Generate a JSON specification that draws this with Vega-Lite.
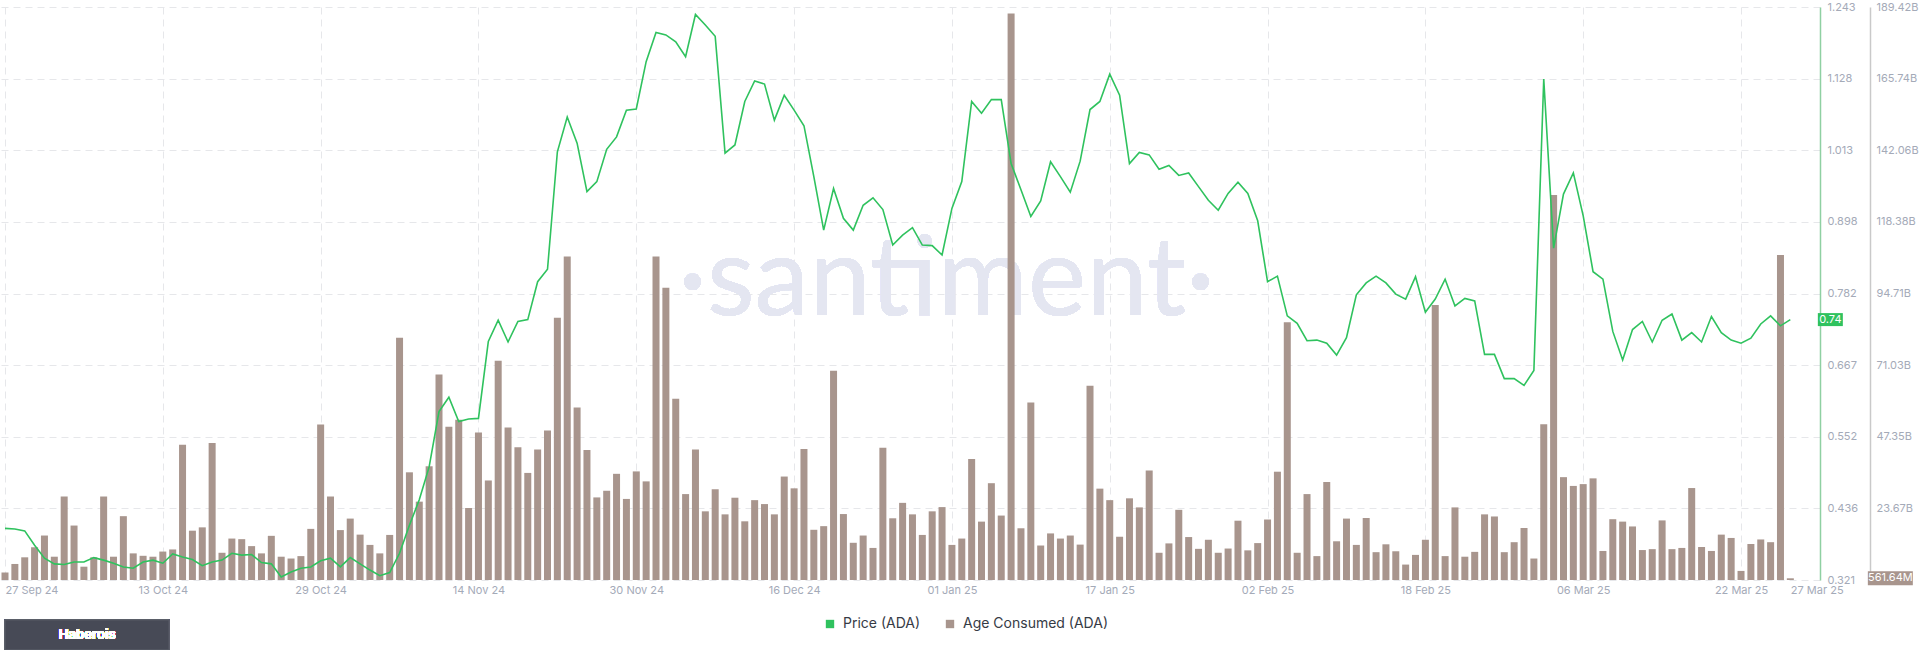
{
"$schema": "https://vega.github.io/schema/vega-lite/v6.json",
"width": 1820,
"height": 573,
"autosize": {"type": "none"},
"padding": {"left": 0, "top": 7, "right": 100, "bottom": 70},
"background": "#ffffff",
"config": {
  "view": {"stroke": null},
  "font": "Inter",
  "axis": {"labelFont": "Inter", "labelFontSize": 11, "labelColor": "#a4aab8", "title": null},
  "legend": {"labelFont": "Inter"}
},
"data": {"values": [
{"date":"2024-09-27","price":0.404,"age":2.5},{"date":"2024-09-28","price":0.403,"age":5.3},{"date":"2024-09-29","price":0.400,"age":7.5},{"date":"2024-09-30","price":0.377,"age":10.8},
{"date":"2024-10-01","price":0.356,"age":14.7},{"date":"2024-10-02","price":0.347,"age":7.7},{"date":"2024-10-03","price":0.346,"age":27.6},{"date":"2024-10-04","price":0.350,"age":18.0},{"date":"2024-10-05","price":0.350,"age":4.4},{"date":"2024-10-06","price":0.357,"age":7.5},{"date":"2024-10-07","price":0.353,"age":27.6},{"date":"2024-10-08","price":0.348,"age":7.7},{"date":"2024-10-09","price":0.342,"age":21.1},{"date":"2024-10-10","price":0.340,"age":8.8},
{"date":"2024-10-11","price":0.350,"age":8.0},{"date":"2024-10-12","price":0.353,"age":7.7},{"date":"2024-10-13","price":0.348,"age":9.4},{"date":"2024-10-14","price":0.363,"age":10.1},{"date":"2024-10-15","price":0.358,"age":44.7},{"date":"2024-10-16","price":0.354,"age":16.3},{"date":"2024-10-17","price":0.344,"age":17.4},{"date":"2024-10-18","price":0.350,"age":45.3},{"date":"2024-10-19","price":0.353,"age":9.0},{"date":"2024-10-20","price":0.364,"age":13.7},
{"date":"2024-10-21","price":0.361,"age":13.5},{"date":"2024-10-22","price":0.362,"age":11.2},{"date":"2024-10-23","price":0.349,"age":8.8},{"date":"2024-10-24","price":0.347,"age":14.6},{"date":"2024-10-25","price":0.326,"age":7.7},{"date":"2024-10-26","price":0.334,"age":7.1},{"date":"2024-10-27","price":0.340,"age":7.9},{"date":"2024-10-28","price":0.342,"age":16.9},{"date":"2024-10-29","price":0.352,"age":51.4},{"date":"2024-10-30","price":0.356,"age":27.6},{"date":"2024-10-31","price":0.342,"age":16.5},
{"date":"2024-11-01","price":0.357,"age":20.3},{"date":"2024-11-02","price":0.347,"age":15.0},{"date":"2024-11-03","price":0.337,"age":11.6},{"date":"2024-11-04","price":0.328,"age":8.8},{"date":"2024-11-05","price":0.333,"age":14.9},{"date":"2024-11-06","price":0.364,"age":80.1},{"date":"2024-11-07","price":0.409,"age":35.6},{"date":"2024-11-08","price":0.450,"age":25.9},{"date":"2024-11-09","price":0.503,"age":37.6},{"date":"2024-11-10","price":0.592,"age":67.9},
{"date":"2024-11-11","price":0.615,"age":50.7},{"date":"2024-11-12","price":0.576,"age":53.0},{"date":"2024-11-13","price":0.580,"age":23.8},{"date":"2024-11-14","price":0.581,"age":48.8},{"date":"2024-11-15","price":0.705,"age":32.9},{"date":"2024-11-16","price":0.739,"age":72.5},{"date":"2024-11-17","price":0.704,"age":50.4},{"date":"2024-11-18","price":0.737,"age":43.9},{"date":"2024-11-19","price":0.740,"age":35.4},{"date":"2024-11-20","price":0.801,"age":43.1},
{"date":"2024-11-21","price":0.821,"age":49.4},{"date":"2024-11-22","price":1.010,"age":86.7},{"date":"2024-11-23","price":1.066,"age":106.9},{"date":"2024-11-24","price":1.024,"age":57.0},{"date":"2024-11-25","price":0.946,"age":43.0},{"date":"2024-11-26","price":0.962,"age":27.3},{"date":"2024-11-27","price":1.014,"age":29.5},{"date":"2024-11-28","price":1.034,"age":35.1},{"date":"2024-11-29","price":1.077,"age":26.8},{"date":"2024-11-30","price":1.079,"age":35.9},
{"date":"2024-12-01","price":1.155,"age":32.6},{"date":"2024-12-02","price":1.202,"age":106.9},{"date":"2024-12-03","price":1.198,"age":96.6},{"date":"2024-12-04","price":1.187,"age":59.9},{"date":"2024-12-05","price":1.163,"age":28.4},{"date":"2024-12-06","price":1.231,"age":43.1},{"date":"2024-12-07","price":1.214,"age":22.7},{"date":"2024-12-08","price":1.196,"age":30.0},{"date":"2024-12-09","price":1.008,"age":21.7},{"date":"2024-12-10","price":1.021,"age":27.2},
{"date":"2024-12-11","price":1.091,"age":19.4},{"date":"2024-12-12","price":1.124,"age":26.4},{"date":"2024-12-13","price":1.119,"age":25.1},{"date":"2024-12-14","price":1.061,"age":21.7},{"date":"2024-12-15","price":1.101,"age":34.2},{"date":"2024-12-16","price":1.077,"age":30.3},{"date":"2024-12-17","price":1.052,"age":43.3},{"date":"2024-12-18","price":0.970,"age":16.6},{"date":"2024-12-19","price":0.884,"age":17.8},{"date":"2024-12-20","price":0.951,"age":69.2},
{"date":"2024-12-21","price":0.903,"age":21.8},{"date":"2024-12-22","price":0.884,"age":12.3},{"date":"2024-12-23","price":0.924,"age":14.7},{"date":"2024-12-24","price":0.936,"age":10.6},{"date":"2024-12-25","price":0.917,"age":43.7},{"date":"2024-12-26","price":0.860,"age":20.4},{"date":"2024-12-27","price":0.876,"age":25.5},{"date":"2024-12-28","price":0.888,"age":21.7},{"date":"2024-12-29","price":0.860,"age":14.9},{"date":"2024-12-30","price":0.859,"age":22.7},{"date":"2024-12-31","price":0.844,"age":24.1},
{"date":"2025-01-01","price":0.919,"age":11.6},{"date":"2025-01-02","price":0.962,"age":13.7},{"date":"2025-01-03","price":1.091,"age":40.0},{"date":"2025-01-04","price":1.072,"age":19.3},{"date":"2025-01-05","price":1.094,"age":32.0},{"date":"2025-01-06","price":1.094,"age":21.3},{"date":"2025-01-07","price":0.991,"age":187.3},{"date":"2025-01-08","price":0.949,"age":17.1},{"date":"2025-01-09","price":0.906,"age":58.7},{"date":"2025-01-10","price":0.931,"age":11.4},
{"date":"2025-01-11","price":0.994,"age":15.4},{"date":"2025-01-12","price":0.970,"age":13.7},{"date":"2025-01-13","price":0.945,"age":14.7},{"date":"2025-01-14","price":0.995,"age":11.7},{"date":"2025-01-15","price":1.078,"age":64.2},{"date":"2025-01-16","price":1.091,"age":30.2},{"date":"2025-01-17","price":1.135,"age":26.4},{"date":"2025-01-18","price":1.101,"age":14.3},{"date":"2025-01-19","price":0.991,"age":27.0},{"date":"2025-01-20","price":1.009,"age":24.0},
{"date":"2025-01-21","price":1.005,"age":36.2},{"date":"2025-01-22","price":0.982,"age":9.0},{"date":"2025-01-23","price":0.988,"age":12.1},{"date":"2025-01-24","price":0.972,"age":23.2},{"date":"2025-01-25","price":0.976,"age":14.2},{"date":"2025-01-26","price":0.954,"age":10.3},{"date":"2025-01-27","price":0.932,"age":13.3},{"date":"2025-01-28","price":0.916,"age":9.0},{"date":"2025-01-29","price":0.943,"age":10.4},{"date":"2025-01-30","price":0.961,"age":19.6},{"date":"2025-01-31","price":0.943,"age":9.8},
{"date":"2025-02-01","price":0.899,"age":12.2},{"date":"2025-02-02","price":0.801,"age":20.0},{"date":"2025-02-03","price":0.810,"age":35.8},{"date":"2025-02-04","price":0.746,"age":85.2},{"date":"2025-02-05","price":0.734,"age":9.0},{"date":"2025-02-06","price":0.706,"age":28.4},{"date":"2025-02-07","price":0.707,"age":7.9},{"date":"2025-02-08","price":0.702,"age":32.4},{"date":"2025-02-09","price":0.683,"age":12.8},{"date":"2025-02-10","price":0.711,"age":20.3},
{"date":"2025-02-11","price":0.780,"age":11.6},{"date":"2025-02-12","price":0.799,"age":20.5},{"date":"2025-02-13","price":0.810,"age":9.2},{"date":"2025-02-14","price":0.799,"age":11.8},{"date":"2025-02-15","price":0.781,"age":9.5},{"date":"2025-02-16","price":0.773,"age":5.1},{"date":"2025-02-17","price":0.809,"age":8.3},{"date":"2025-02-18","price":0.752,"age":13.3},{"date":"2025-02-19","price":0.773,"age":90.9},{"date":"2025-02-20","price":0.805,"age":7.9},
{"date":"2025-02-21","price":0.762,"age":24.0},{"date":"2025-02-22","price":0.774,"age":7.7},{"date":"2025-02-23","price":0.770,"age":9.3},{"date":"2025-02-24","price":0.684,"age":21.7},{"date":"2025-02-25","price":0.684,"age":21.0},{"date":"2025-02-26","price":0.645,"age":9.2},{"date":"2025-02-27","price":0.645,"age":12.5},{"date":"2025-02-28","price":0.634,"age":17.2},
{"date":"2025-03-01","price":0.658,"age":7.1},{"date":"2025-03-02","price":1.127,"age":51.5},{"date":"2025-03-03","price":0.855,"age":127.3},{"date":"2025-03-04","price":0.942,"age":34.0},{"date":"2025-03-05","price":0.976,"age":31.1},{"date":"2025-03-06","price":0.907,"age":31.7},{"date":"2025-03-07","price":0.817,"age":33.6},{"date":"2025-03-08","price":0.805,"age":9.6},{"date":"2025-03-09","price":0.721,"age":20.1},{"date":"2025-03-10","price":0.675,"age":19.3},
{"date":"2025-03-11","price":0.724,"age":17.7},{"date":"2025-03-12","price":0.737,"age":9.9},{"date":"2025-03-13","price":0.704,"age":10.2},{"date":"2025-03-14","price":0.739,"age":19.7},{"date":"2025-03-15","price":0.749,"age":10.2},{"date":"2025-03-16","price":0.707,"age":10.6},{"date":"2025-03-17","price":0.719,"age":30.4},{"date":"2025-03-18","price":0.704,"age":10.9},{"date":"2025-03-19","price":0.745,"age":9.6},{"date":"2025-03-20","price":0.719,"age":15.0},
{"date":"2025-03-21","price":0.707,"age":13.9},{"date":"2025-03-22","price":0.702,"age":3.0},{"date":"2025-03-23","price":0.710,"age":11.9},{"date":"2025-03-24","price":0.733,"age":13.4},{"date":"2025-03-25","price":0.746,"age":12.5},{"date":"2025-03-26","price":0.730,"age":107.4},{"date":"2025-03-27","price":0.740,"age":0.56164}
]},
"encoding": {
  "x": {
    "field": "date", "type": "temporal",
    "scale": {"type": "utc", "domain": [{"year":2024,"month":9,"date":27,"utc":true},{"year":2025,"month":3,"date":29,"hours":12,"utc":true}]},
    "axis": {
      "values": [{"year":2024,"month":9,"date":27,"utc":true},{"year":2024,"month":10,"date":13,"utc":true},{"year":2024,"month":10,"date":29,"utc":true},{"year":2024,"month":11,"date":14,"utc":true},{"year":2024,"month":11,"date":30,"utc":true},{"year":2024,"month":12,"date":16,"utc":true},{"year":2025,"month":1,"date":1,"utc":true},{"year":2025,"month":1,"date":17,"utc":true},{"year":2025,"month":2,"date":2,"utc":true},{"year":2025,"month":2,"date":18,"utc":true},{"year":2025,"month":3,"date":6,"utc":true},{"year":2025,"month":3,"date":22,"utc":true},{"year":2025,"month":3,"date":27,"utc":true}],
      "format": "%d %b %y",
      "title": null,
      "domain": false,
      "ticks": false,
      "labelPadding": 4,
      "labelFlush": false,
      "labelAlign": {"condition": {"test": "datum.value < utc(2024,8,28) || datum.value > utc(2025,2,25)", "value": "left"}, "value": "center"},
      "grid": true,
      "gridColor": "#e6e7ea",
      "gridDash": [7, 5],
      "gridOpacity": {"condition": {"test": "datum.value > utc(2025,2,25)", "value": 0}, "value": 1}
    }
  }
},
"layer": [
  {
    "layer": [
      {
        "mark": {"type": "text", "text": "·santiment·", "font": "Lato", "fontWeight": "normal", "fontSize": 110, "color": "#e4e6f1", "align": "center", "baseline": "alphabetic"},
        "encoding": {
          "x": {"datum": {"year":2024,"month":12,"date":31,"hours":11,"utc":true}, "type": "temporal"},
          "y": {"datum": 87.6, "type": "quantitative"}
        }
      },
      {
        "mark": {"type": "bar", "width": 7},
        "encoding": {
          "y": {
            "field": "age", "type": "quantitative",
            "scale": {"domain": [0, 189.42], "nice": false, "zero": true},
            "axis": {
              "orient": "right", "offset": 50, "title": null,
              "values": [23.6775, 47.355, 71.0325, 94.71, 118.3875, 142.065, 165.7425, 189.42],
              "labelExpr": "format(floor(datum.value*100+0.000001)/100, '.2f') + 'B'",
              "grid": false, "ticks": false, "domainColor": "#c9c9c9", "domainWidth": 1.5, "labelPadding": 6, "labelAlign": "left", "labelBaseline": "middle"
            }
          },
          "color": {
            "datum": "Age Consumed (ADA)", "type": "nominal",
            "scale": {"domain": ["Price (ADA)", "Age Consumed (ADA)"], "range": ["#2fc25e", "#a8958d"]},
            "legend": {
              "orient": "none", "legendX": 823, "legendY": 610, "direction": "horizontal", "title": null,
              "symbolType": "square", "symbolSize": 70, "symbolStrokeWidth": 0,
              "labelFontSize": 14, "labelColor": "#363b45", "labelOffset": 6, "columnPadding": 22,
              "encode": {"symbols": {"update": {"fill": {"scale": "color", "field": "value"}, "fillOpacity": {"value": 1}, "opacity": {"value": 1}, "strokeWidth": {"value": 0}}}}
            }
          }
        }
      },
      {
        "transform": [{"filter": "time(datum.date) == utc(2025,2,27)"}],
        "mark": {"type": "rect", "color": "#a8958d", "xOffset": 77.5, "x2Offset": 122.5, "yOffset": -7, "y2Offset": 7},
        "encoding": {
          "x2": {"field": "date"},
          "y": {"field": "age", "type": "quantitative"},
          "y2": {"field": "age"}
        }
      },
      {
        "transform": [{"filter": "time(datum.date) == utc(2025,2,27)"}, {"calculate": "format(datum.age*1000, '.2f') + 'M'", "as": "lbl"}],
        "mark": {"type": "text", "dx": 100, "align": "center", "baseline": "middle", "color": "#ffffff", "fontSize": 11, "font": "Inter"},
        "encoding": {
          "y": {"field": "age", "type": "quantitative"},
          "text": {"field": "lbl"}
        }
      },
      {
        "mark": {"type": "rect", "color": "#474a56", "stroke": "#5b5e69", "strokeWidth": 1},
        "encoding": {
          "x": {"datum": {"year":2024,"month":9,"date":27,"utc":true}, "type": "temporal"},
          "x2": {"datum": {"year":2024,"month":10,"date":13,"hours":15,"utc":true}},
          "y": {"datum": -13.2, "type": "quantitative"},
          "y2": {"datum": -23.1}
        }
      },
      {
        "mark": {"type": "text", "text": "Haberois", "color": "#ffffff", "fontWeight": "bold", "fontSize": 13, "font": "Inter", "align": "center", "baseline": "middle"},
        "encoding": {
          "x": {"datum": {"year":2024,"month":10,"date":5,"hours":8,"utc":true}, "type": "temporal"},
          "y": {"datum": -18.2, "type": "quantitative"}
        }
      }
    ]
  },
  {
    "layer": [
      {
        "mark": {"type": "line", "strokeWidth": 1.6, "interpolate": "linear"},
        "encoding": {
          "y": {
            "field": "price", "type": "quantitative",
            "scale": {"domain": [0.321, 1.243], "nice": false, "zero": false},
            "axis": {
              "orient": "right", "title": null,
              "values": [0.321, 0.43625, 0.5515, 0.66675, 0.782, 0.89725, 1.0125, 1.12775, 1.243],
              "labelExpr": "['0.321','0.436','0.552','0.667','0.782','0.898','1.013','1.128','1.243'][round((datum.value-0.321)/0.11525)]",
              "grid": true, "gridColor": "#e6e7ea", "gridDash": [7, 5],
              "ticks": false, "domainColor": "#8fd0a2", "domainWidth": 1.5, "labelPadding": 7, "labelAlign": "left", "labelBaseline": "middle"
            }
          },
          "color": {"datum": "Price (ADA)", "type": "nominal"}
        }
      },
      {
        "transform": [{"filter": "time(datum.date) == utc(2025,2,27)"}],
        "mark": {"type": "rect", "color": "#2fc25e", "xOffset": 27.5, "x2Offset": 52.5, "yOffset": -6.5, "y2Offset": 6.5},
        "encoding": {
          "x2": {"field": "date"},
          "y": {"field": "price", "type": "quantitative"},
          "y2": {"field": "price"}
        }
      },
      {
        "transform": [{"filter": "time(datum.date) == utc(2025,2,27)"}],
        "mark": {"type": "text", "dx": 40, "align": "center", "baseline": "middle", "color": "#ffffff", "fontSize": 11, "font": "Inter"},
        "encoding": {
          "y": {"field": "price", "type": "quantitative"},
          "text": {"field": "price", "type": "quantitative", "format": ".2f"}
        }
      }
    ]
  }
],
"resolve": {"scale": {"y": "independent"}}
}
